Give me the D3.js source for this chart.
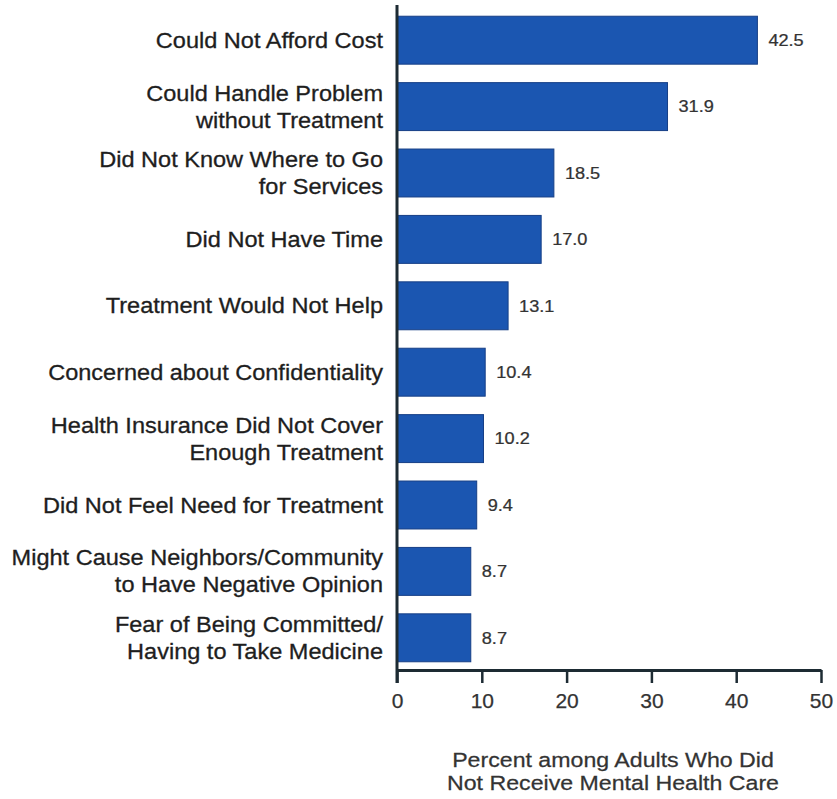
<!DOCTYPE html>
<html>
<head>
<meta charset="utf-8">
<script src="https://cdn.jsdelivr.net/npm/d3@7"></script>
<style>
  html, body { margin: 0; padding: 0; background: #ffffff; }
  svg { display: block; }
  text { font-family: "Liberation Sans", Arial, Helvetica, sans-serif; }
</style>
</head>
<body>
<svg id="chart" width="837" height="799"></svg>
<script>
// Data
const categories = [
  ["Could Not Afford Cost"],
  ["Could Handle Problem", "without Treatment"],
  ["Did Not Know Where to Go", "for Services"],
  ["Did Not Have Time"],
  ["Treatment Would Not Help"],
  ["Concerned about Confidentiality"],
  ["Health Insurance Did Not Cover", "Enough Treatment"],
  ["Did Not Feel Need for Treatment"],
  ["Might Cause Neighbors/Community", "to Have Negative Opinion"],
  ["Fear of Being Committed/", "Having to Take Medicine"]
];
const values = [42.5, 31.9, 18.5, 17.0, 13.1, 10.4, 10.2, 9.4, 8.7, 8.7];
const xTicks = [0, 10, 20, 30, 40, 50];
const axisTitle = ["Percent among Adults Who Did", "Not Receive Mental Health Care"];

const svg = d3.select("#chart");
const x0 = 397, x1 = 821, axisY = 670;
const stretch = 1.095;

const x = d3.scaleLinear().domain([0, 50]).range([x0, x1]);
const keys = categories.map((c, i) => i);
const y = d3.scaleBand().domain(keys).range([7, 671]).paddingInner(0.278).paddingOuter(0.139);

// Bars
svg.append("g").selectAll("rect").data(values).join("rect")
  .attr("x", x(0))
  .attr("y", (d, i) => y(i))
  .attr("width", d => x(d) - x(0))
  .attr("height", y.bandwidth())
  .attr("fill", "#1b56b1")
  .attr("stroke", "#163f86")
  .attr("stroke-width", 1);

// Value labels
svg.append("g").selectAll("text").data(values).join("text")
  .attr("transform", (d, i) => `translate(${x(d) + 11},${y(i) + y.bandwidth() / 2}) scale(1.1,1)`)
  .attr("dy", "0.35em")
  .attr("font-size", 16.5)
  .attr("fill", "#333")
  .attr("stroke", "#333").attr("stroke-width", 0.25)
  .text(d => d.toFixed(1));

// Category labels
const lineH = 27;
const lab = svg.append("g").selectAll("g").data(categories).join("g")
  .attr("transform", (d, i) => `translate(383,${y(i) + y.bandwidth() / 2}) scale(${stretch},1)`);
lab.each(function(lines) {
  const g = d3.select(this);
  const n = lines.length;
  lines.forEach((t, k) => {
    g.append("text")
      .attr("x", 0)
      .attr("y", (k - (n - 1) / 2) * lineH)
      .attr("dy", "0.35em")
      .attr("text-anchor", "end")
      .attr("font-size", 21.5)
      .attr("fill", "#1e1e1e")
      .attr("stroke", "#1e1e1e").attr("stroke-width", 0.3)
      .text(t);
  });
});

// X axis
const xAxis = d3.axisBottom(x).tickValues(xTicks).tickSize(13).tickSizeOuter(0).tickPadding(10);
const gx = svg.append("g").attr("transform", `translate(0,${axisY})`).call(xAxis);
gx.select(".domain").attr("stroke", "#1d2b33").attr("stroke-width", 3);
gx.selectAll(".tick line").attr("stroke", "#1d2b33").attr("stroke-width", 2.5);
gx.selectAll(".tick text")
  .attr("font-size", 21)
  .attr("fill", "#333")
  .attr("stroke", "#333").attr("stroke-width", 0.25)
  .attr("font-family", "'Liberation Sans', Arial, sans-serif");

// Y axis line
svg.append("line")
  .attr("x1", x0).attr("x2", x0)
  .attr("y1", 5).attr("y2", axisY + 13)
  .attr("stroke", "#1d2b33").attr("stroke-width", 3);

// Axis title
const tg = svg.append("g").attr("transform", `translate(613,0) scale(1.13,1)`);
axisTitle.forEach((t, k) => {
  tg.append("text")
    .attr("x", 0)
    .attr("y", 767 + k * 23)
    .attr("text-anchor", "middle")
    .attr("font-size", 20.5)
    .attr("fill", "#333")
    .attr("stroke", "#333").attr("stroke-width", 0.25)
    .text(t);
});
</script>
</body>
</html>
